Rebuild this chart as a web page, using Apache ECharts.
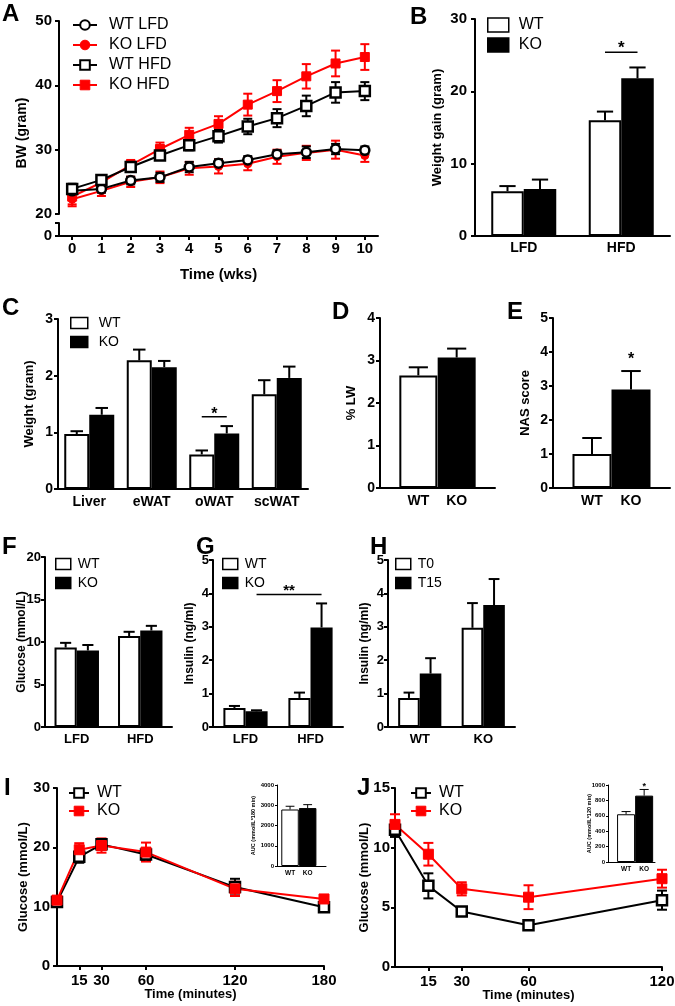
<!DOCTYPE html>
<html><head><meta charset="utf-8">
<script src="https://cdn.jsdelivr.net/npm/echarts@6/dist/echarts.min.js"></script>
<style>html,body{margin:0;padding:0;background:#fff}#c{width:675px;height:1006px}</style>
</head><body><div id="c"></div>
<script>
// ================= DATA =================
// A: body weight over time (weeks)
const weeks = [0,1,2,3,4,5,6,7,8,9,10];
const aWtLfd    = [23.6, 23.9, 25.2, 25.7, 27.3, 27.9, 28.4, 29.3, 29.6, 30.1, 29.9];
const aWtLfdErr = [0.7, 0.6, 0.6, 0.7, 0.8, 0.6, 0.6, 0.6, 0.9, 0.8, 0.6];
const aKoLfd    = [22.3, 23.6, 25.0, 25.7, 27.1, 27.4, 27.8, 28.9, 29.5, 30.0, 29.1];
const aKoLfdErr = [1.1, 0.8, 0.8, 0.9, 1.0, 1.1, 1.0, 1.1, 1.1, 1.4, 1.0];
const aWtHfd    = [23.9, 25.3, 27.3, 29.1, 30.7, 32.1, 33.6, 34.9, 36.8, 38.9, 39.1];
const aWtHfdErr = [0.8, 0.5, 0.6, 0.7, 0.8, 1.0, 1.2, 1.4, 1.6, 1.6, 1.4];
const aKoHfd    = [22.7, 24.9, 27.6, 30.1, 32.3, 34.0, 37.0, 39.1, 41.4, 43.4, 44.4];
const aKoHfdErr = [1.2, 0.9, 0.8, 1.0, 1.1, 1.2, 1.7, 1.7, 1.9, 2.0, 2.0];
const aZeroTick = [0];
// B: weight gain
const dietCats = ['LFD', 'HFD'];
const bWt = [6.2, 16.0],  bWtErr = [0.7, 1.2];
const bKo = [6.5, 21.8],  bKoErr = [1.3, 1.5];
// C: tissue weights
const tissueCats = ['Liver', 'eWAT', 'oWAT', 'scWAT'];
const cWt = [0.97, 2.27, 0.61, 1.67], cWtErr = [0.05, 0.19, 0.07, 0.25];
const cKo = [1.31, 2.15, 0.98, 1.96], cKoErr = [0.12, 0.11, 0.13, 0.20];
// D, E
const genoCats = ['WT', 'KO'];
const dVals = [2.65, 3.07], dErr = [0.19, 0.21];
const eVals = [1.0, 2.9],   eErr = [0.47, 0.54];
// F: glucose
const fWt = [9.35, 10.7], fWtErr = [0.55, 0.5];
const fKo = [9.0, 11.35], fKoErr = [0.65, 0.55];
// G: insulin
const gWt = [0.57, 0.87], gWtErr = [0.06, 0.16];
const gKo = [0.47, 2.98], gKoErr = [0.03, 0.72];
// H: insulin T0 / T15
const hT0  = [0.87, 2.97], hT0Err  = [0.16, 0.74];
const hT15 = [1.6, 3.65],  hT15Err = [0.46, 0.78];
// I: GTT
const gttTimes = [0, 15, 30, 60, 120, 180];
const gttTicks = [15, 30, 60, 120, 180];
const iWt = [10.8, 18.4, 20.5, 18.8, 13.3, 9.9], iWtErr = [0.5, 1.0, 0.9, 1.0, 1.4, 0.5];
const iKo = [11.1, 19.6, 20.3, 19.2, 13.0, 11.3], iKoErr = [0.5, 1.1, 1.2, 1.6, 1.2, 0.6];
const iAuc = [2790, 2860], iAucErr = [160, 170];
// J: ITT
const ittTimes = [0, 15, 30, 60, 120];
const ittTicks = [15, 30, 60, 120];
const jWt = [11.5, 6.8, 4.65, 3.5, 5.6],  jWtErr = [0.6, 1.05, 0.3, 0.2, 0.8];
const jKo = [11.95, 9.45, 6.55, 5.85, 7.4], jKoErr = [0.85, 0.95, 0.55, 1.0, 0.75];
const jAuc = [620, 862], jAucErr = [35, 80];

// ================= BUILD =================
const FONT = '"Liberation Sans", Arial, Helvetica, sans-serif';
const RED = '#ff0000';
const grids = [], xAxes = [], yAxes = [], series = [], legends = [], titles = [];

function grid(left, top, width, height) {
  grids.push({left, top, width, height, containLabel:false, outerBoundsMode:'none'});
  return grids.length - 1;
}
function valAxis(gi, o) {
  const lw = o.lw || 2;
  const ax = {
    type:'value', gridIndex:gi, min:o.min, max:o.max, show: o.show !== false,
    axisLine:{show:o.line !== false, onZero:false, lineStyle:{color:'#000', width:lw}},
    axisTick:{show:o.ticks !== false, inside:false, length:o.tl || 4, lineStyle:{color:'#000', width:lw}},
    axisLabel:{show:o.labels !== false, color:'#000', fontFamily:FONT, fontWeight:'bold', fontSize:o.fs || 13,
      margin:o.margin == null ? 6 : o.margin, formatter: o.formatter || (v => String(v))},
    splitLine:{show:false}, nameMoveOverlap:false
  };
  if (o.interval != null) ax.interval = o.interval;
  if (o.tickValues) ax.axisTick.customValues = o.tickValues;
  if (o.labelValues) ax.axisLabel.customValues = o.labelValues;
  if (o.name) {
    ax.name = o.name; ax.nameLocation = 'middle'; ax.nameGap = o.nameGap;
    ax.nameRotate = o.vertical ? 90 : 0;
    ax.nameTextStyle = {color:'#000', fontFamily:FONT, fontWeight:'bold', fontSize:o.nameFs || 13};
  }
  return ax;
}
function catAxis(gi, cats, o) {
  return {type:'category', gridIndex:gi, data:cats, boundaryGap:true,
    axisLine:{show:true, onZero:false, lineStyle:{color:'#000', width:o.lw || 2}},
    axisTick:{show:false},
    axisLabel:{color:'#000', fontFamily:FONT, fontWeight:'bold', fontSize:o.fs || 14, margin:o.margin || 6, interval:0},
    splitLine:{show:false}};
}
function errBars(gi, pts, opt) {
  return {
    type:'custom', xAxisIndex:gi, yAxisIndex:gi, silent:true, clip:false, z:3,
    dimensions:['x','m','e'], encode:{x:'x', y:'m'}, data:pts,
    renderItem(params, api) {
      const x = api.value(0), m = api.value(1), e = api.value(2);
      const band = api.size([1, 0])[0];
      const c = api.coord([x, m]);
      const cx = c[0] + (opt.off || 0) * band;
      const yt = api.coord([x, m + e])[1];
      const yb = api.coord([x, m - e])[1];
      const cap = opt.capPx != null ? opt.capPx : opt.capFrac * band;
      const st = {stroke:opt.color || '#000', lineWidth:opt.lw || 2};
      const ch = [
        {type:'line', shape:{x1:cx, y1:opt.both ? yb : c[1], x2:cx, y2:yt}, style:st},
        {type:'line', shape:{x1:cx - cap/2, y1:yt, x2:cx + cap/2, y2:yt}, style:st}
      ];
      if (opt.both) ch.push({type:'line', shape:{x1:cx - cap/2, y1:yb, x2:cx + cap/2, y2:yb}, style:st});
      return {type:'group', children:ch};
    }
  };
}
function sigMarks(gi, items) {
  return {
    type:'custom', xAxisIndex:gi, yAxisIndex:gi, silent:true, clip:false, z:5,
    dimensions:['x','y'], encode:{x:'x', y:'y'}, data:items.map(it => [it.x1, it.y]),
    renderItem(params, api) {
      const it = items[params.dataIndex];
      const band = api.size([1, 0])[0];
      const p1 = api.coord([it.x1, it.y]), p2 = api.coord([it.x2, it.y]);
      const x1 = p1[0] + (it.o1 || 0) * band, x2 = p2[0] + (it.o2 || 0) * band;
      const ty = api.coord([it.x1, it.ty])[1];
      const ch = [];
      if (it.line) ch.push({type:'line', shape:{x1, y1:p1[1], x2, y2:p1[1]}, style:{stroke:'#000', lineWidth:1.5}});
      ch.push({type:'text', style:{text:it.text, x:(x1 + x2)/2, y:ty + 0.25 * it.fs, align:'center', verticalAlign:'middle',
        fontSize:it.fs, fontWeight:'bold', fontFamily:FONT, fill:'#000'}});
      return {type:'group', children:ch};
    }
  };
}
function groupedBars(gi, sets, frac, lw) {
  sets.forEach(s => series.push({type:'bar', name:s.name, xAxisIndex:gi, yAxisIndex:gi, data:s.vals,
    barWidth:(frac * 100) + '%', barGap:'0%', silent:true,
    itemStyle:{color:s.fill, borderColor:'#000', borderWidth:lw}}));
  sets.forEach((s, k) => series.push(errBars(gi, s.vals.map((v, i) => [i, v, s.errs[i]]),
    {off:(k - (sets.length - 1) / 2) * frac, capFrac:frac * 0.5, lw:lw})));
}
function pairBars(gi, vals, errs, barPx, lw) {
  series.push({type:'bar', xAxisIndex:gi, yAxisIndex:gi, barWidth:barPx, silent:true,
    data:vals.map((v, i) => ({value:[i + 1, v], itemStyle:{color:i === 0 ? '#fff' : '#000', borderColor:'#000', borderWidth:lw}}))});
  series.push(errBars(gi, vals.map((v, i) => [i + 1, v, errs[i]]), {capFrac:0.5, lw:lw}));
}
function lineWithErr(gi, name, xs, ys, errs, s) {
  series.push(errBars(gi, xs.map((x, i) => [x, ys[i], errs[i]]), {both:true, capPx:s.cap, color:s.color, lw:2}));
  series.push({type:'line', name, xAxisIndex:gi, yAxisIndex:gi, data:xs.map((x, i) => [x, ys[i]]),
    symbol:s.symbol, symbolSize:s.size, showAllSymbol:true, silent:true, z:4,
    lineStyle:{color:s.color, width:2}, itemStyle:{color:s.fill, borderColor:s.color, borderWidth:s.bw}});
}
function legendBox(items, left, top, o) {
  legends.push({orient:'vertical', left, top, padding:0, itemGap:o.gap, itemWidth:o.w, itemHeight:o.h,
    selectedMode:false, formatter:n => n.split('|')[0],
    textStyle:{fontFamily:FONT, fontSize:o.fs, color:'#000', lineHeight:o.lh, padding:[0, 0, 0, o.tp]},
    data:items});
}
const wtBox = n => ({name:n, icon:'rect', itemStyle:{color:'#fff', borderColor:'#000', borderWidth:1.5}});
const koBox = n => ({name:n, icon:'rect', itemStyle:{color:'#000', borderColor:'#000', borderWidth:1.5}});
function letter(t, left, top) {
  titles.push({text:t, left, top, padding:0, textStyle:{fontFamily:FONT, fontSize:24, fontWeight:'bold', color:'#000'}});
}

// ---- Panel A ----
const gA = grid(59, 21, 319, 193);
xAxes.push(valAxis(gA, {min:-0.45, max:10.45, show:false}));
yAxes.push(valAxis(gA, {min:20, max:50, interval:10, fs:15, margin:7}));
const gA0 = grid(59, 223, 319, 13);
xAxes.push(valAxis(gA0, {min:-0.45, max:10.45, tickValues:weeks, labelValues:weeks, fs:15, margin:5,
  name:'Time (wks)', nameGap:31, nameFs:15}));
yAxes.push(valAxis(gA0, {min:0, max:1, tickValues:[0, 1], labelValues:aZeroTick, fs:15, margin:7}));
const gAn = grid(59, 30, 10, 206);
xAxes.push(valAxis(gAn, {min:0, max:1, show:false}));
yAxes.push(valAxis(gAn, {min:0, max:1, line:false, ticks:false, labels:false, name:'BW (gram)', nameGap:30, nameFs:14, vertical:true}));
lineWithErr(gA, 'KO LFD', weeks, aKoLfd, aKoLfdErr, {color:RED, fill:RED, symbol:'circle', size:8, bw:1, cap:9});
lineWithErr(gA, 'KO HFD', weeks, aKoHfd, aKoHfdErr, {color:RED, fill:RED, symbol:'rect', size:9, bw:1, cap:9});
lineWithErr(gA, 'WT LFD', weeks, aWtLfd, aWtLfdErr, {color:'#000', fill:'#fff', symbol:'circle', size:9, bw:2.5, cap:9});
lineWithErr(gA, 'WT HFD', weeks, aWtHfd, aWtHfdErr, {color:'#000', fill:'#fff', symbol:'rect', size:10, bw:2.5, cap:9});
legendBox([
  {name:'WT LFD', itemStyle:{color:'#fff', borderColor:'#000', borderWidth:2}, lineStyle:{color:'#000', width:2}},
  {name:'KO LFD', itemStyle:{color:RED, borderColor:RED, borderWidth:1}, lineStyle:{color:RED, width:2}},
  {name:'WT HFD', itemStyle:{color:'#fff', borderColor:'#000', borderWidth:2}, lineStyle:{color:'#000', width:2}},
  {name:'KO HFD', itemStyle:{color:RED, borderColor:RED, borderWidth:1}, lineStyle:{color:RED, width:2}}
], 72, 16, {gap:2, w:24, h:12, fs:16, lh:18, tp:7});
letter('A', 2, 2);

// ---- Panel B ----
const gB = grid(475, 19, 195, 217);
xAxes.push(catAxis(gB, dietCats, {fs:14, margin:5}));
yAxes.push(valAxis(gB, {min:0, max:30, interval:10, fs:15, margin:8, name:'Weight gain (gram)', nameGap:31, nameFs:13, vertical:true}));
groupedBars(gB, [{name:'WT|B', vals:bWt, errs:bWtErr, fill:'#fff'}, {name:'KO|B', vals:bKo, errs:bKoErr, fill:'#000'}], 1/3, 2);
series.push(sigMarks(gB, [{x1:1, o1:-1/6, x2:1, o2:1/6, y:25.4, ty:26.5, text:'*', fs:17, line:true}]));
legendBox([wtBox('WT|B'), koBox('KO|B')], 487, 16, {gap:2, w:21, h:14, fs:16, lh:18, tp:5});
letter('B', 410, 5);

// ---- Panel C ----
const gC = grid(58, 319, 250, 170);
xAxes.push(catAxis(gC, tissueCats, {fs:14, margin:6}));
yAxes.push(valAxis(gC, {min:0, max:3, interval:1, fs:14, margin:5, name:'Weight (gram)', nameGap:22, nameFs:13, vertical:true}));
groupedBars(gC, [{name:'WT|C', vals:cWt, errs:cWtErr, fill:'#fff'}, {name:'KO|C', vals:cKo, errs:cKoErr, fill:'#000'}], 0.4, 2);
series.push(sigMarks(gC, [{x1:2, o1:-0.2, x2:2, o2:0.2, y:1.275, ty:1.39, text:'*', fs:16, line:true}]));
legendBox([wtBox('WT|C'), koBox('KO|C')], 70, 315, {gap:3, w:17, h:11, fs:14, lh:16, tp:6});
letter('C', 2, 296);

// ---- Panel D ----
const gD = grid(380, 318, 115, 170);
xAxes.push(valAxis(gD, {min:0, max:3, ticks:false, labelValues:[1, 2], formatter:v => genoCats[v - 1], fs:14, margin:6}));
yAxes.push(valAxis(gD, {min:0, max:4, interval:1, fs:14, margin:5, name:'% LW', nameGap:22, nameFs:13, vertical:true}));
pairBars(gD, dVals, dErr, 38, 2);
letter('D', 332, 300);

// ---- Panel E ----
const gE = grid(553, 318, 117, 170);
xAxes.push(valAxis(gE, {min:0, max:3, ticks:false, labelValues:[1, 2], formatter:v => genoCats[v - 1], fs:14, margin:6}));
yAxes.push(valAxis(gE, {min:0, max:5, interval:1, fs:14, margin:5, name:'NAS score', nameGap:21, nameFs:13, vertical:true}));
pairBars(gE, eVals, eErr, 39, 2);
series.push(sigMarks(gE, [{x1:2, x2:2, y:3.89, ty:3.89, text:'*', fs:16, line:false}]));
letter('E', 507, 300);

// ---- Panel F ----
const gF = grid(45, 557, 127, 170);
xAxes.push(catAxis(gF, dietCats, {fs:13, margin:6}));
yAxes.push(valAxis(gF, {min:0, max:20, interval:5, fs:13, margin:4, name:'Glucose (mmol/L)', nameGap:17, nameFs:12, vertical:true}));
groupedBars(gF, [{name:'WT|F', vals:fWt, errs:fWtErr, fill:'#fff'}, {name:'KO|F', vals:fKo, errs:fKoErr, fill:'#000'}], 0.35, 2);
legendBox([wtBox('WT|F'), koBox('KO|F')], 55, 556, {gap:3, w:15, h:11, fs:14, lh:16, tp:2});
letter('F', 2, 535);

// ---- Panel G ----
const gG = grid(213, 560, 130, 167);
xAxes.push(catAxis(gG, dietCats, {fs:13, margin:6}));
yAxes.push(valAxis(gG, {min:0, max:5, interval:1, fs:13, margin:4, name:'Insulin (ng/ml)', nameGap:17, nameFs:12, vertical:true}));
groupedBars(gG, [{name:'WT|G', vals:gWt, errs:gWtErr, fill:'#fff'}, {name:'KO|G', vals:gKo, errs:gKoErr, fill:'#000'}], 0.34, 2);
series.push(sigMarks(gG, [{x1:0, o1:0.17, x2:1, o2:0.17, y:3.97, ty:4.19, text:'**', fs:15, line:true}]));
legendBox([wtBox('WT|G'), koBox('KO|G')], 222, 556, {gap:3, w:15, h:11, fs:14, lh:16, tp:2});
letter('G', 196, 535);

// ---- Panel H ----
const gH = grid(388, 560, 127, 167);
xAxes.push(catAxis(gH, genoCats, {fs:13, margin:6}));
yAxes.push(valAxis(gH, {min:0, max:5, interval:1, fs:13, margin:4, name:'Insulin (ng/ml)', nameGap:17, nameFs:12, vertical:true}));
groupedBars(gH, [{name:'T0|H', vals:hT0, errs:hT0Err, fill:'#fff'}, {name:'T15|H', vals:hT15, errs:hT15Err, fill:'#000'}], 0.34, 2);
legendBox([wtBox('T0|H'), koBox('T15|H')], 395, 556, {gap:3, w:15, h:11, fs:14, lh:16, tp:2});
letter('H', 370, 535);

// ---- Panel I ----
const gI = grid(57, 788, 267, 178);
xAxes.push(valAxis(gI, {min:0, max:180, tickValues:gttTicks, labelValues:gttTicks, fs:15, margin:7,
  name:'Time (minutes)', nameGap:22, nameFs:13}));
yAxes.push(valAxis(gI, {min:0, max:30, interval:10, fs:15, margin:7, name:'Glucose (mmol/L)', nameGap:27, nameFs:13, vertical:true}));
lineWithErr(gI, 'WT|I', gttTimes, iWt, iWtErr, {color:'#000', fill:'#fff', symbol:'rect', size:10, bw:2.5, cap:10});
lineWithErr(gI, 'KO|I', gttTimes, iKo, iKoErr, {color:RED, fill:RED, symbol:'rect', size:10, bw:1, cap:10});
legendBox([
  {name:'WT|I', itemStyle:{color:'#fff', borderColor:'#000', borderWidth:2}, lineStyle:{color:'#000', width:2}},
  {name:'KO|I', itemStyle:{color:RED, borderColor:RED, borderWidth:1}, lineStyle:{color:RED, width:2}}
], 68, 784, {gap:0, w:20, h:12, fs:16, lh:18, tp:3});
letter('I', 4, 776);

// I inset
const gIi = grid(277, 785, 49, 81);
xAxes.push(valAxis(gIi, {min:0.26, max:3.04, ticks:false, labelValues:[1, 2], formatter:v => genoCats[v - 1], fs:6.5, margin:4, lw:1}));
yAxes.push(valAxis(gIi, {min:0, max:4000, interval:1000, fs:6, margin:3, tl:2, lw:1, name:'AUC (mmol/L*180 min)', nameGap:21, nameFs:5.5, vertical:true}));
pairBars(gIi, iAuc, iAucErr, 17.5, 1);

// ---- Panel J ----
const gJ = grid(395, 788, 267, 179);
xAxes.push(valAxis(gJ, {min:0, max:120, tickValues:ittTicks, labelValues:ittTicks, fs:15, margin:7,
  name:'Time (minutes)', nameGap:22, nameFs:13}));
yAxes.push(valAxis(gJ, {min:0, max:15, interval:5, fs:15, margin:5, name:'Glucose (mmol/L)', nameGap:24, nameFs:13, vertical:true}));
lineWithErr(gJ, 'WT|J', ittTimes, jWt, jWtErr, {color:'#000', fill:'#fff', symbol:'rect', size:10, bw:2.5, cap:10});
lineWithErr(gJ, 'KO|J', ittTimes, jKo, jKoErr, {color:RED, fill:RED, symbol:'rect', size:10, bw:1, cap:10});
legendBox([
  {name:'WT|J', itemStyle:{color:'#fff', borderColor:'#000', borderWidth:2}, lineStyle:{color:'#000', width:2}},
  {name:'KO|J', itemStyle:{color:RED, borderColor:RED, borderWidth:1}, lineStyle:{color:RED, width:2}}
], 410, 784, {gap:0, w:20, h:12, fs:16, lh:18, tp:3});
letter('J', 357, 776);

// J inset
const gJi = grid(608, 785, 47, 77);
xAxes.push(valAxis(gJi, {min:0, max:2.6, ticks:false, labelValues:[1, 2], formatter:v => genoCats[v - 1], fs:6.5, margin:4, lw:1}));
yAxes.push(valAxis(gJi, {min:0, max:1000, interval:200, fs:6, margin:3, tl:2, lw:1, name:'AUC (mmol/L*120 min)', nameGap:16, nameFs:5.5, vertical:true}));
pairBars(gJi, jAuc, jAucErr, 18, 1);
series.push(sigMarks(gJi, [{x1:2, x2:2, y:1013, ty:1013, text:'*', fs:9, line:false}]));

const chart = echarts.init(document.getElementById('c'), null, {renderer:'canvas', width:675, height:1006});
chart.setOption({
  animation:false, backgroundColor:'#fff', textStyle:{fontFamily:FONT},
  title:titles, grid:grids, xAxis:xAxes, yAxis:yAxes, legend:legends, series:series
});
</script>
</body></html>
